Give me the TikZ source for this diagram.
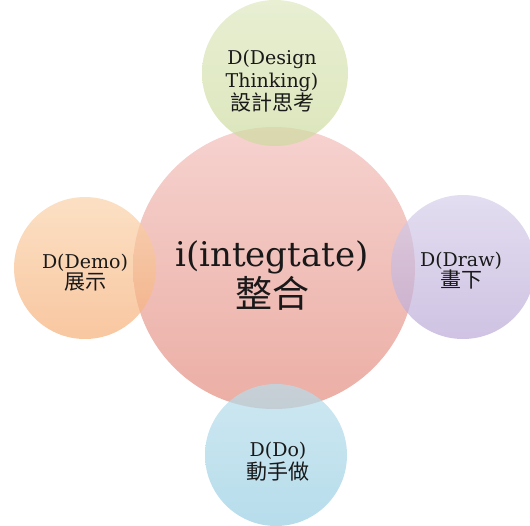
\documentclass[tikz,border=0pt]{standalone}
\usepackage{fontspec}
\setmainfont{DejaVu Serif}
\newfontfamily\cjk{Noto Sans CJK TC}

\definecolor{pinkTop}{HTML}{F6D2CF}
\definecolor{pinkBot}{HTML}{EBAEA4}
\definecolor{greenTop}{HTML}{DEE8C0}
\definecolor{greenBot}{HTML}{CDDB9F}
\definecolor{orangeTop}{HTML}{FBD3AB}
\definecolor{orangeBot}{HTML}{F5AF78}
\definecolor{purpleTop}{HTML}{D6CFEA}
\definecolor{purpleBot}{HTML}{BBA9D7}
\definecolor{blueTop}{HTML}{B8DEEB}
\definecolor{blueBot}{HTML}{98CEE3}

\setlength{\lineskiplimit}{-100pt}
\newcommand{\zh}[1]{{\cjk\fontsize{21}{21}\selectfont #1}}

\begin{document}
\begin{tikzpicture}[x=1pt, y=-1pt,
        bubble/.style={circle, draw=none, inner sep=0pt, minimum size=#1},
        side/.style={fill opacity=0.7},
        lbl/.style={align=center, inner sep=0pt, text=black!90,
            font=\fontsize{19}{21}\selectfont}]
        \clip (0,0) rectangle (530,525);
        % circles
        \node[bubble=282pt, top color=pinkTop, bottom color=pinkBot] (mid) at (274,268) {};
        \node[bubble=146pt, side, top color=greenTop, bottom color=greenBot] (top) at (275,73) {};
        \node[bubble=142pt, side, top color=orangeTop, bottom color=orangeBot] (left) at (85,268) {};
        \node[bubble=144pt, side, top color=purpleTop, bottom color=purpleBot] (right) at (463,267) {};
        \node[bubble=142pt, side, top color=blueTop, bottom color=blueBot] (bottom) at (276,455) {};
        % texts
        \node[lbl, font=\fontsize{19}{23}\selectfont] (toptxt) at (272,81) {D(Design\\Thinking)\\\zh{設計思考}};
        \node[lbl, font=\fontsize{34}{41}\selectfont] (midtxt) at (272,276)
            {i(integtate)\\{\cjk\fontsize{37}{41}\selectfont 整合}};
        \node[lbl] (lefttxt) at (85,273) {D(Demo)\\\zh{展示}};
        \node[lbl] (righttxt) at (461,271) {D(Draw)\\\zh{畫下}};
        \node[lbl] (bottomtxt) at (278,462) {D(Do)\\[2pt]\zh{動手做}};
\end{tikzpicture}
\end{document}
